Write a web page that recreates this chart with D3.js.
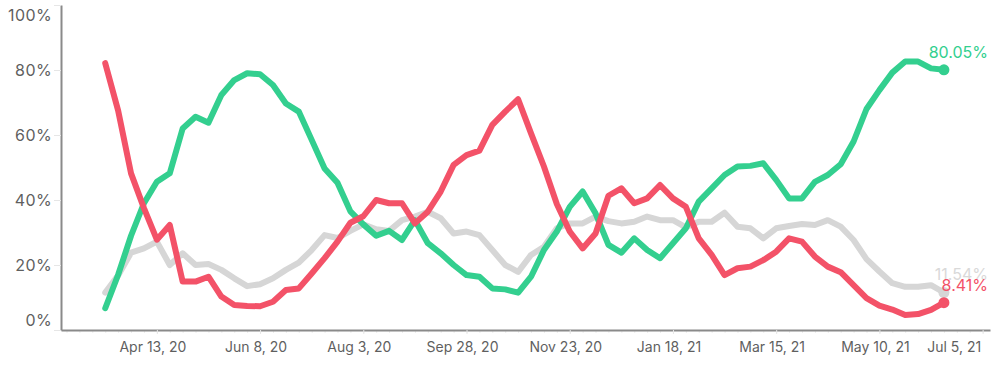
<!DOCTYPE html>
<html>
<head>
<meta charset="utf-8">
<script src="https://cdn.jsdelivr.net/npm/d3@7"></script>
<style>
  body { margin: 0; background: #fff; }
  svg text { font-family: Inter, "Noto Sans", sans-serif; }
  .axis .domain { stroke: #8a8a8a; stroke-width: 2px; }
  .axis .tick line { stroke: #e6e6e6; }
  .axis .tick text { fill: #5f5f5f; }
  .minor .tick line { stroke: #eeeeee; }
  .series { fill: none; stroke-width: 6px; stroke-linejoin: round; stroke-linecap: round; }
</style>
</head>
<body>
<svg id="chart"></svg>
<script>
// weekly points, Mon Mar 16 2020 -> Mon Jun 14 2021
const weeks = d3.timeMonday.range(new Date(2020, 2, 16), new Date(2021, 5, 15));

const positive = [6.7, 17, 29, 39, 45.6, 48.2, 62, 65.6, 63.8, 72.3, 76.9, 79, 78.7, 75.4, 69.7, 67.2,
  58.5, 49.7, 45.3, 36.5, 32.5, 29, 30.5, 27.7, 33.8, 26.7, 23.6, 20, 16.9, 16.4, 12.8, 12.5,
  11.5, 16.4, 24.6, 30.3, 37.9, 42.6, 35.9, 26.2, 23.8, 28.2, 24.6, 22.1, 26.7, 31.3, 39.5, 43.6,
  47.7, 50.3, 50.5, 51.3, 46.2, 40.5, 40.5, 45.6, 47.7, 51, 58, 68, 73.8, 79.2, 82.6, 82.6, 80.5, 80.05];

const negative = [82.1, 67.5, 48.2, 37.5, 27.8, 32.3, 14.9, 14.9, 16.4, 10.3, 7.7, 7.4, 7.3, 8.7, 12.3, 12.8,
  17.4, 22.1, 27.2, 33, 35, 40, 39, 39, 32.8, 36.4, 42.6, 50.8, 53.8, 55.2, 63.1, 67.2,
  71, 60.5, 50.3, 38.8, 30.3, 25.1, 29.7, 41.3, 43.6, 39, 40.5, 44.6, 40.5, 37.9, 28.2, 23.1,
  16.9, 19, 19.5, 21.5, 24.1, 28.2, 27.2, 22.6, 19.5, 17.8, 13.8, 9.8, 7.5, 6.3, 4.6, 4.9, 6.2, 8.41];

const neutral = [11.5, 16.8, 23.8, 25.1, 27.2, 20, 23.6, 20, 20.3, 18.5, 15.9, 13.5, 14.1, 15.9, 18.5, 20.7,
  24.6, 29.2, 28.3, 30.5, 32.5, 31, 30.5, 33.8, 34.9, 36.4, 34.4, 29.7, 30.3, 29.2, 24.6, 20,
  17.9, 23.1, 25.6, 31.3, 32.8, 32.8, 34.9, 33.5, 32.8, 33.3, 34.9, 33.8, 33.8, 31.6, 33.3, 33.3,
  36.1, 31.8, 31.3, 28.2, 31.3, 32, 32.6, 32.3, 33.8, 31.8, 27.7, 21.8, 18, 14.4, 13.3, 13.3, 13.8, 11.54];

const yTicks = [0, 20, 40, 60, 80, 100];
const xTicks = ['2020-04-13', '2020-06-08', '2020-08-03', '2020-09-28', '2020-11-23',
  '2021-01-18', '2021-03-15', '2021-05-10', '2021-07-05'];

const series = [
  {name: 'neutral', values: neutral, color: '#d6d6d6', labelColor: '#d9d9d9'},
  {name: 'positive', values: positive, color: '#33cf8f', labelColor: '#33cf8f'},
  {name: 'negative', values: negative, color: '#f35268', labelColor: '#f35268'}
];

class LineChart {

  constructor(_config) {
    this.config = {
      parentElement: _config.parentElement,
      containerWidth: _config.containerWidth || 1008,
      containerHeight: _config.containerHeight || 374,
      margin: _config.margin || {top: 5, right: 18, bottom: 44, left: 61}
    }
    this.initVis();
  }

  initVis() {
    let vis = this;

    vis.width = vis.config.containerWidth - vis.config.margin.left - vis.config.margin.right;
    vis.height = vis.config.containerHeight - vis.config.margin.top - vis.config.margin.bottom;

    vis.svg = d3.select(vis.config.parentElement)
        .attr('width', vis.config.containerWidth)
        .attr('height', vis.config.containerHeight);

    vis.chart = vis.svg.append('g')
        .attr('transform', `translate(${vis.config.margin.left},${vis.config.margin.top})`);

    vis.xScale = d3.scaleTime()
        .domain([new Date(2020, 1, 21), new Date(2021, 6, 9)])
        .range([0, vis.width]);

    vis.yScale = d3.scaleLinear()
        .domain([0, 100])
        .range([vis.height, 0]);

    const parse = d3.timeParse('%Y-%m-%d');

    // weekly minor ticks under the x axis
    vis.minorAxis = d3.axisBottom(vis.xScale)
        .tickValues(d3.timeMonday.range(new Date(2020, 1, 24), new Date(2021, 6, 9)))
        .tickFormat('')
        .tickSize(3)
        .tickSizeOuter(0);

    vis.xAxis = d3.axisBottom(vis.xScale)
        .tickValues(xTicks.map(parse))
        .tickFormat(d3.timeFormat('%b %-d, %y'))
        .tickSize(4)
        .tickPadding(8)
        .tickSizeOuter(0);

    vis.yAxis = d3.axisLeft(vis.yScale)
        .tickValues(yTicks)
        .tickFormat(d => d + '%')
        .tickSize(7)
        .tickPadding(2)
        .tickSizeOuter(0);

    vis.line = d3.line()
        .x((d, i) => vis.xScale(weeks[i]))
        .y(d => vis.yScale(d));
  }

  renderVis() {
    let vis = this;

    vis.chart.append('g')
        .attr('class', 'axis minor')
        .attr('transform', `translate(0,${vis.height})`)
        .call(vis.minorAxis)
        .select('.domain').remove();

    vis.xAxisG = vis.chart.append('g')
        .attr('class', 'axis x-axis')
        .attr('transform', `translate(0,${vis.height})`)
        .call(vis.xAxis);
    vis.xAxisG.selectAll('text')
        .style('font-size', '14px')
        .attr('x', -4.5);
    // last label is kept inside the chart
    vis.xAxisG.selectAll('.tick:last-of-type text')
        .attr('text-anchor', 'end')
        .attr('x', -2);

    vis.yAxisG = vis.chart.append('g')
        .attr('class', 'axis y-axis')
        .call(vis.yAxis);
    vis.yAxisG.selectAll('text')
        .style('font-size', '16px')
        .style('letter-spacing', '0.4px');
    // end labels are pulled inside the axis extent
    vis.yAxisG.selectAll('.tick')
        .filter(d => d === 100)
        .select('text').attr('y', 10);
    vis.yAxisG.selectAll('.tick')
        .filter(d => d === 0)
        .select('text').attr('y', -10);

    vis.chart.selectAll('.series')
        .data(series)
      .join('path')
        .attr('class', 'series')
        .attr('stroke', d => d.color)
        .attr('d', d => vis.line(d.values));

    const last = weeks.length - 1;

    vis.chart.selectAll('.end-dot')
        .data(series)
      .join('circle')
        .attr('class', 'end-dot')
        .attr('cx', vis.xScale(weeks[last]))
        .attr('cy', d => vis.yScale(d.values[last]))
        .attr('r', 5.5)
        .attr('fill', d => d.color);

    vis.chart.selectAll('.end-label')
        .data(series)
      .join('text')
        .attr('class', 'end-label')
        .attr('x', vis.width - 2)
        .attr('y', d => vis.yScale(d.values[last]) - 12)
        .attr('text-anchor', 'end')
        .style('font-size', '16px')
        .attr('fill', d => d.labelColor)
        .text(d => d3.format('.2f')(d.values[last]) + '%');
  }
}

const chart = new LineChart({parentElement: '#chart'});
chart.renderVis();
</script>
</body>
</html>
